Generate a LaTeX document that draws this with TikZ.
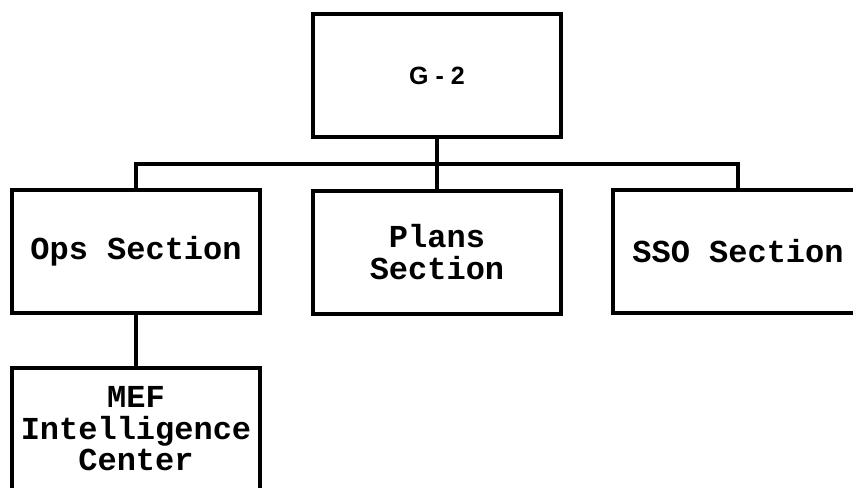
\documentclass[tikz,border=0pt]{standalone}
\usepackage{fontspec}
\newfontfamily\boxmono{Liberation Mono}
\newfontfamily\boxsans[LetterSpace=28]{Liberation Sans}
\begin{document}
\begin{tikzpicture}[x=1pt,y=-1pt,
  unit/.style={draw=black, line width=4pt, rectangle, inner sep=0pt,
    minimum width=248pt, minimum height=123pt, align=center,
    font={\boxmono\bfseries\fontsize{32}{31.5}\selectfont}},
  head/.style={unit, font={\boxsans\bfseries\fontsize{25}{28}\selectfont}},
  link/.style={draw=black, line width=4pt}]
  \fill[white] (0,0) rectangle (853,487);
  \useasboundingbox (0,0) rectangle (853,487);
  \clip (0,0) rectangle (853,487);

  % organisation boxes
  \node[head] (g2)    at (437,75.5)  {G-2};
  \node[unit] (ops)   at (136,251.5) {Ops Section};
  \node[unit] (plans) at (437,252)   {Plans\\Section};
  \node[unit, minimum width=250pt] (sso) at (738,251.5) {SSO Section};
  \node[unit, minimum height=122pt] (mef) at (136,429) {MEF\\Intelligence\\Center};

  % reporting lines
  \coordinate (bus) at (437,164);
  \draw[link] (g2.south) -- (bus);
  \draw[link] (bus) -| (ops.north);
  \draw[link] (bus) -| (sso.north);
  \draw[link] (bus) -- (plans.north);
  \draw[link] (ops.south) -- (mef.north);
\end{tikzpicture}
\end{document}
